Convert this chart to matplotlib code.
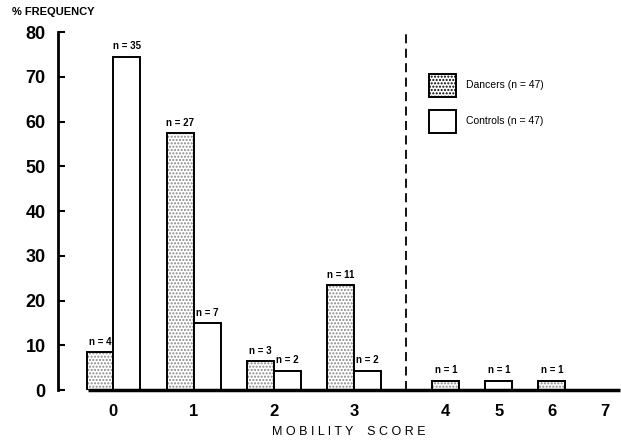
import matplotlib
matplotlib.use("Agg")
import matplotlib.pyplot as plt
from matplotlib.patches import Patch

plt.rcParams['font.family'] = ['Liberation Sans', 'DejaVu Sans']

scores = ["0", "1", "2", "3", "4", "5", "6", "7"]
dancers_pct = [8.5, 57.4, 6.4, 23.4, 2.1, 0, 2.1, 0]
controls_pct = [74.5, 14.9, 4.3, 4.3, 0, 2.1, 0, 0]
dancers_n = [4, 27, 3, 11, 1, 0, 1, 0]
controls_n = [35, 7, 2, 2, 0, 1, 0, 0]

# layout positions (scale changes after the dashed divider)
pos = [0, 1, 2, 3, 4.14, 4.8, 5.46, 6.12]
w = 0.335

fig = plt.figure(figsize=(6.21, 4.40), dpi=100)
ax = fig.add_axes([0.0934, 0.1136, 0.905, 0.8136])

for i in range(len(scores)):
    d, c = dancers_pct[i], controls_pct[i]
    if d > 0 and c > 0:
        xd, xc = pos[i] - w / 2, pos[i] + w / 2
    else:
        xd = xc = pos[i]
    if d > 0:
        ax.bar(xd, d, width=w, facecolor='white', edgecolor='#888888', hatch='.....', linewidth=0, zorder=2)
        ax.bar(xd, d, width=w, facecolor='none', edgecolor='black', linewidth=1.4, zorder=3)
        ax.text(xd, d + 1.2, f"n = {dancers_n[i]}", ha='center', va='bottom', fontsize=7, fontweight='bold')
    if c > 0:
        ax.bar(xc, c, width=w, facecolor='white', edgecolor='black', linewidth=1.4, zorder=3)
        ax.text(xc, c + 1.2, f"n = {controls_n[i]}", ha='center', va='bottom', fontsize=7, fontweight='bold')

ax.set_xlim(-0.69, 6.31)
ax.set_ylim(0, 80)

for s in ['top', 'right', 'bottom']:
    ax.spines[s].set_visible(False)
ax.spines['left'].set_linewidth(2)

# baseline
ax.plot([-0.32, 6.31], [0, 0], color='black', linewidth=2.5, zorder=4, clip_on=False, solid_capstyle='butt')

# divider
ax.plot([3.65, 3.65], [0, 80], color='black', linewidth=1.3, linestyle=(0, (5, 3)), zorder=1)

ax.set_yticks(range(0, 81, 10))
ax.tick_params(axis='y', direction='in', length=5, width=1.5, pad=9, labelsize=13)
for t in ax.get_yticklabels():
    t.set_fontweight('bold')

ax.set_xticks(pos)
ax.set_xticklabels(scores, fontsize=12, fontweight='bold')
ax.tick_params(axis='x', length=0, pad=10)

fig.text(0.02, 0.972, "% FREQUENCY", fontsize=8, fontweight='bold', ha='left', va='center')
fig.text(0.562, 0.018, "M O B I L I T Y    S C O R E", fontsize=9, ha='center', va='center')

handles = [Patch(facecolor='white', edgecolor='black', hatch='.....', linewidth=1.4),
           Patch(facecolor='white', edgecolor='black', linewidth=1.4)]
leg = ax.legend(handles, ["Dancers (n = 47)", "Controls (n = 47)"], loc='upper left',
                bbox_to_anchor=(0.644, 0.91), frameon=False, fontsize=7.5,
                handlelength=2.6, handleheight=3.1, labelspacing=1.2, handletextpad=0.9)

fig.savefig("out.png", dpi=100)
